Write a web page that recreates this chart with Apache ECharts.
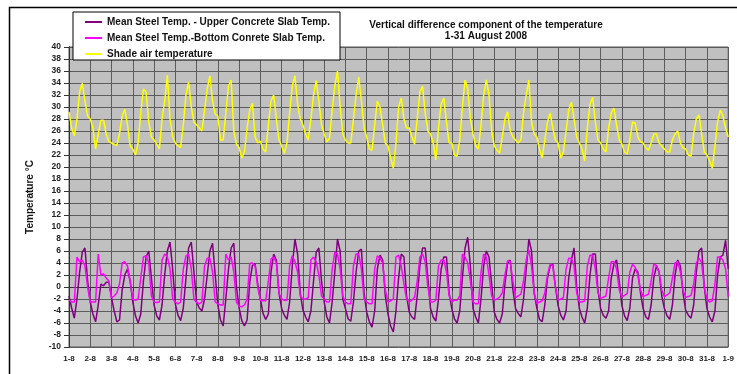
<!DOCTYPE html>
<html>
<head>
<meta charset="utf-8">
<script src="https://cdn.jsdelivr.net/npm/echarts@6/dist/echarts.min.js"></script>
<style>
  html, body { margin: 0; padding: 0; background: #fff; }
  #chart { width: 737px; height: 374px; }
</style>
</head>
<body>
<div id="chart"></div>
<script>
// Tick labels of the x axis (one per day boundary)
const dayLabels = ['1-8','2-8','3-8','4-8','5-8','6-8','7-8','8-8','9-8','10-8','11-8','12-8','13-8','14-8','15-8','16-8',
  '17-8','18-8','19-8','20-8','21-8','22-8','23-8','24-8','25-8','26-8','27-8','28-8','29-8','30-8','31-8','1-9'];

// Readings every 3 hours (0,3,6,...,21 h) from 1 Aug 00:00 to 1 Sep 00:00
const samplesPerDay = 8;

const seriesNames = [
  'Mean Steel Temp. - Upper Concrete Slab Temp.',
  'Mean Steel Temp.-Bottom Conrete Slab Temp.',
  'Shade air temperature'
];

const upperDiff = [
  -1.5,-3.5,-5.2,-2,2.5,5.8,6.5,1,
  -2.5,-4.5,-5.8,-3,0.5,0.2,0.8,0.8,
  -1.8,-4,-5.8,-5.5,-0.5,2.0,3.0,1.0,
  -2.5,-4.8,-6.0,-4.5,1,5.0,6.0,1.5,
  -3.0,-4.8,-5.5,-3.0,2.0,6.0,7.5,3.0,
  -2.8,-4.7,-5.6,-3.5,1.5,6.5,7.5,2.5,
  -2.5,-3.5,-4.0,-2.0,2.0,6.0,7.3,2.0,
  -3.0,-5.5,-6.5,-2.0,3.0,6.5,7.3,0,
  -3.5,-5.6,-6.5,-5.5,0.8,3.6,3.9,0.5,
  -2.0,-4.4,-5.4,-4.5,2.5,5.5,4.5,-1.0,
  -3.6,-4.7,-5.4,-2.5,3.5,8.0,5.5,-1.0,
  -3.8,-5.0,-5.8,-4.0,1.0,5.8,6.5,1.0,
  -2.5,-5.0,-6.0,-2.5,2.5,8.0,6.0,-2.0,
  -3.6,-5.3,-5.7,-2.5,2.5,6.0,6.3,-1.0,
  -4.2,-5.8,-6.7,-4.0,3.0,5.3,4.5,-1.5,
  -4.5,-6.5,-7.5,-4,1.5,5.5,5.0,-1.5,
  -4.2,-5.0,-5.4,-1.5,3.5,6.5,6.5,1.5,
  -3.6,-5.0,-5.7,-2.0,3.0,5.0,5.0,-1.0,
  -3.6,-5.3,-6.0,-4.0,1.5,6.5,8.3,3.5,
  -3.6,-5.0,-6.0,-2.0,3.5,6.0,5.0,0.5,
  -4.2,-5.4,-6.0,-4.5,0.5,4.0,4.5,-0.5,
  -3.6,-4.4,-5.0,-2.0,3.0,8.0,6.0,-1.0,
  -3.5,-5.4,-5.8,-3.0,1.5,3.5,3.8,0,
  -3.1,-4.7,-5.5,-4.0,1.5,4.5,6.5,0,
  -3.6,-5.0,-6.0,-3.5,2.0,5.5,5.5,-0.5,
  -3.6,-4.7,-5.2,-4.0,1.5,3.8,4.5,1.0,
  -3.1,-4.8,-5.6,-3.5,1.5,3.0,2.5,-1.0,
  -3.6,-5.0,-5.4,-3.0,1.5,3.5,2.5,-1.5,
  -3.6,-4.8,-5.4,-3.0,2.0,4.5,3.5,-1.0,
  -3.9,-4.7,-5.2,-3.0,2.5,6.0,6.5,0,
  -3.6,-5.0,-5.8,-4.0,2.0,5.0,5.3,7.8,
  3
];

const bottomDiff = [
  -2.2,-2.5,-2.5,5.0,4.2,4.5,3.5,0,
  -2.5,-2.5,-2.5,5.5,2.0,2.2,1.5,1.0,
  -1.8,-1.5,-1.0,0.5,4.0,4.2,3.5,1.0,
  -2.0,-2.2,-2.0,1.5,5.0,5.2,4.0,-1.5,
  -2.5,-2.6,-2.5,4.5,5.5,5.0,3.0,-2.0,
  -2.5,-2.8,-2.5,3.0,5.2,5.5,3.0,-2.0,
  -2.6,-2.8,-2.5,3.5,4.8,4.8,2.5,-2.5,
  -2.8,-3.0,-3.0,5.5,4.5,5.0,2.5,-2.5,
  -3.2,-3.3,-3.0,-2.0,3.9,4.0,3.5,0,
  -2.2,-2.3,-2.3,1.0,4.7,5.0,4.0,-1.0,
  -2.0,-2.2,-2.2,3.5,5.2,4.2,2.5,-1.5,
  -2.0,-2.0,-1.8,4.5,5.0,4.2,2.0,-1.5,
  -2.0,-2.5,-2.5,3.0,5.8,5.5,3.0,-1.5,
  -2.5,-2.8,-2.8,3.5,5.5,5.5,3.0,-2.0,
  -2.5,-2.8,-2.8,3.0,5.2,4.8,4.0,-0.5,
  -2.5,-2.3,-2.0,5.0,5.3,3.5,0.5,-2.0,
  -2.5,-2.2,-1.7,1.0,5.0,5.5,4.2,0,
  -2.5,-2.5,-2.2,3.5,4.5,4.5,2.5,-1.5,
  -2.5,-2.2,-2.2,-1.5,5.5,5.0,4.0,1.0,
  -2.5,-2.8,-2.8,2.5,5.5,5.0,2.0,-1.5,
  -2.2,-2.0,-1.7,-1.0,2.0,4.4,4.2,1.0,
  -1.7,-1.5,-1.2,1.0,4.5,6.2,3.5,-1.0,
  -2.7,-2.5,-2.3,-1.0,2.0,3.8,3.5,0,
  -2.2,-2.0,-1.8,3.0,4.8,4.8,3.5,-1.0,
  -2.5,-2.5,-2.3,3.5,5.3,5.3,3.0,-1.0,
  -1.9,-1.7,-1.5,1.5,4.2,4.2,3.0,-0.5,
  -1.7,-1.4,-1.1,2.5,3.8,3.3,2.0,-0.5,
  -1.6,-1.4,-1.2,1.0,3.8,3.6,2.5,-0.5,
  -1.6,-1.3,-1.0,1.5,4.0,4.2,2.5,-0.5,
  -1.7,-1.6,-1.4,0.5,4.0,4.8,4.0,0,
  -2.0,-2.5,-2.3,0.5,5.0,5.0,4.5,3.0,
  -1.6
];

const airTemp = [
  29.2,26.5,25.2,28,32.5,34,31,28.5,
  28,26.5,23,25.5,27.8,27.8,25.5,24.2,
  24,23.8,23.6,25.5,28.5,29.6,27,23.5,
  23,22,24,29,33,32.5,27.5,25,
  24.5,23.8,23,28,31,35.3,28,25,
  24,23.5,23.3,27,32,34.2,30,27.5,
  27,26.5,26,29.5,33,35.2,31,28.8,
  28.5,24.5,24.5,29,33.5,34.5,26,23.8,
  23.2,21.5,22.5,26.5,29.5,30.6,25,24,
  24.3,23,22.5,27,31,32,28,24.5,
  23.5,22.3,24,29,33.5,35.2,30.5,28,
  27,25.5,24.5,28,32,34.4,31,27,
  25.5,24.2,24.8,29.5,33.5,36,30,25.5,
  24.5,24,24,28,32,35,31,26.5,
  25,23,22.8,27,31,30,27,24,
  23.5,21.5,19.8,24,30,31.5,28,26.5,
  26.5,25,23.8,28,32.5,33.5,29,26,
  25.5,24,21.2,26.5,30.5,31.5,27.5,24,
  24,22,21.8,24.5,30,34.5,33,28,
  25.5,23.5,23,27,32,34.5,32,26,
  23.5,22.8,22.3,25,28,29.2,26,25,
  24.5,24,24.5,29,32,34.5,27.5,25.5,
  25,23,21.5,24.5,27.5,29,26.5,24.5,
  24,21.5,22.5,26,29.5,30.8,28,25,
  24,23,21,26.5,30.5,31.6,27.5,24.5,
  24,23,22.5,26.5,29,29.8,27,24.5,
  23.8,22.5,22.2,24.5,27.5,27.3,25,24.2,
  24,23.2,22.8,24,25.5,25.5,24,23.5,
  23,22.5,22.5,24.5,25.5,26,24,23.2,
  23,22,21.8,25.5,28,28.7,25.5,22.5,
  22,21,19.8,23.5,27.5,29.5,28.5,26.5,
  25
];

const toPoints = arr => arr.map((v, i) => [i / samplesPerDay, v]);

const FONT = '"Liberation Sans", Arial, sans-serif';
const chart = echarts.init(document.getElementById('chart'), null, { renderer: 'canvas' });

chart.setOption({
  animation: false,
  backgroundColor: '#ffffff',
  grid: {
    left: 69, right: 8, top: 47, bottom: 27,
    show: true, backgroundColor: '#c0c0c0', borderColor: '#555', borderWidth: 1
  },
  legend: {
    orient: 'vertical',
    left: 73, top: 12,
    padding: [4, 10, 0, 12],
    itemGap: 4,
    itemWidth: 17, itemHeight: 2,
    icon: 'rect',
    backgroundColor: '#ffffff',
    borderColor: '#000', borderWidth: 1,
    textStyle: { fontFamily: FONT, fontWeight: 'bold', fontSize: 10, color: '#111', lineHeight: 12 },
    data: seriesNames
  },
  xAxis: {
    type: 'value', min: 0, max: 31, interval: 1,
    axisLine: { show: true, lineStyle: { color: '#333' } },
    axisTick: { show: true, length: 4, lineStyle: { color: '#333' } },
    axisLabel: {
      fontFamily: FONT, fontSize: 8, fontWeight: 'bold', color: '#222', margin: 8,
      formatter: v => dayLabels[Math.round(v)]
    },
    splitLine: { show: true, lineStyle: { color: '#5c5c5c', width: 1 } }
  },
  yAxis: {
    type: 'value', min: -10, max: 40, interval: 2,
    name: 'Temperature °C', nameLocation: 'middle', nameGap: 34, nameRotate: 90,
    nameTextStyle: { fontFamily: FONT, fontWeight: 'bold', fontSize: 10, color: '#111' },
    axisLine: { show: true, lineStyle: { color: '#333' } },
    axisTick: { show: true, length: 5, lineStyle: { color: '#333' } },
    axisLabel: { fontFamily: FONT, fontSize: 8.5, fontWeight: 'bold', color: '#222', margin: 8 },
    splitLine: { show: true, lineStyle: { color: '#5c5c5c', width: 1 } }
  },
  series: [
    { name: seriesNames[0], type: 'line', symbol: 'none', data: toPoints(upperDiff),
      color: '#800080', lineStyle: { color: '#800080', width: 1.5 } },
    { name: seriesNames[1], type: 'line', symbol: 'none', data: toPoints(bottomDiff),
      color: '#ff00ff', lineStyle: { color: '#ff00ff', width: 1.5 } },
    { name: seriesNames[2], type: 'line', symbol: 'none', data: toPoints(airTemp),
      color: '#ffff00', lineStyle: { color: '#ffff00', width: 1.5 } }
  ],
  graphic: [
    { type: 'rect', z: 100, silent: true,
      shape: { x: 9.5, y: 7.5, width: 800, height: 400 },
      style: { fill: 'none', stroke: '#000', lineWidth: 1.5 } },
    { type: 'text', z: 100, x: 486, y: 20,
      style: { text: 'Vertical difference component of the temperature\n1-31 August 2008',
        textAlign: 'center', font: 'bold 10px ' + FONT, fill: '#111', lineHeight: 11 } }
  ]
});
</script>
</body>
</html>
